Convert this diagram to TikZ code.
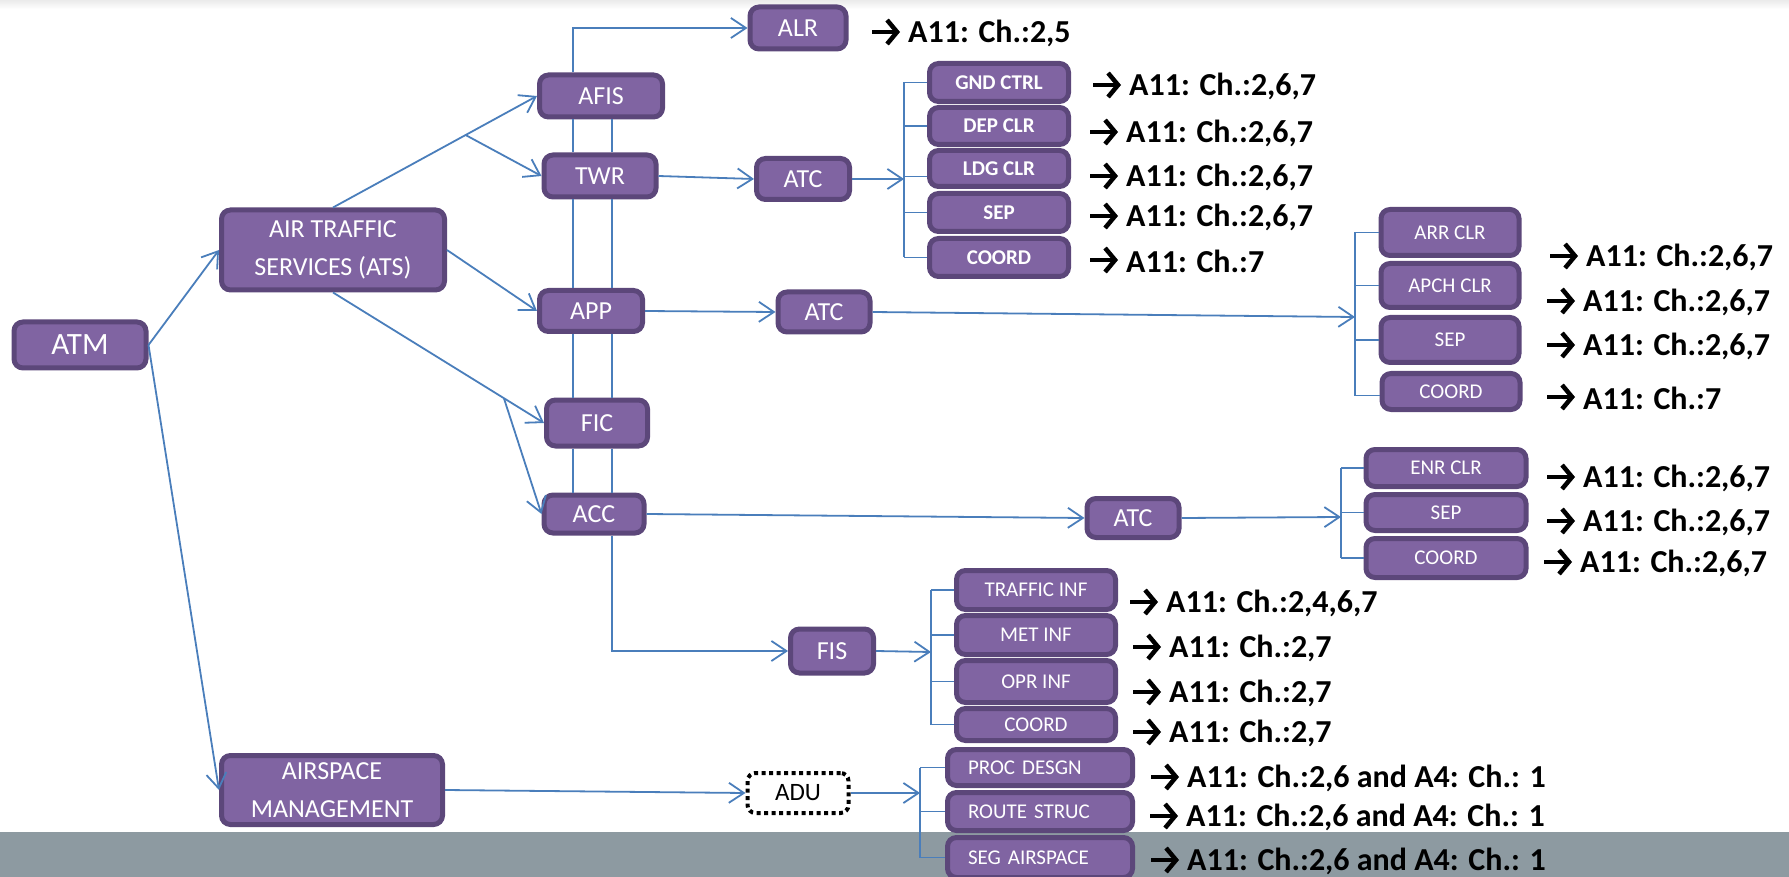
\documentclass[tikz,border=0pt]{standalone}
\usepackage{fontspec}
\setmainfont{Carlito}
\usetikzlibrary{arrows.meta,calc}
\definecolor{boxfill}{HTML}{8064A2}
\definecolor{boxline}{HTML}{5C477A}
\definecolor{linkblue}{HTML}{4A7EBB}
\definecolor{bandgray}{HTML}{8D9AA1}
\tikzset{
  box/.style={draw=boxline, fill=boxfill, line width=5pt, rounded corners=9pt, text=white, inner sep=0pt, align=center},
  sz/.style 2 args={minimum width=#1pt-5pt, minimum height=#2pt-5pt},
  big/.style={font=\fontsize{26}{38}\selectfont},
  small/.style={font=\fontsize{21}{24}\selectfont},
  smallb/.style={font=\fontsize{21}{24}\selectfont\bfseries},
  lefttxt/.style={align=left, text width=144pt, inner xsep=20pt},
  lbl/.style={anchor=west, inner sep=0pt, font=\fontsize{32}{36}\selectfont\bfseries},
  lblarr/.style={line width=4.5pt, -{Straight Barb[length=10pt,width=24pt,line width=4.5pt]}},
  link/.style={draw=linkblue, line width=1.8pt},
  arr/.style={link, -{Straight Barb[length=15pt,width=20pt]}},
}
\newcommand{\lab}[4]{% name, x of arrow, y, text
  \node[lbl] (#1) at (#2+36,#3) {#4};
  \draw[lblarr] ($(#1.west)+(-36,-1)$) -- ($(#1.west)+(-8,-1)$);
}
\begin{document}
\begin{tikzpicture}[x=1pt,y=-1pt]
\useasboundingbox (0,0) rectangle (1789,877);
\clip (0,0) rectangle (1789,877);
\shade[top color=black!8, bottom color=white] (0,0) rectangle (1789,9);
\fill[bandgray] (0,832) rectangle (1789,877);

% main nodes
\node[box,sz={137}{51},font=\fontsize{31}{36}\selectfont] (ATM) at (80,345) {ATM};
\node[box,big,sz={228}{85}] (ATS) at (333,250) {AIR TRAFFIC\\SERVICES (ATS)};
\node[box,big,sz={226}{74}] (ASM) at (332,790) {AIRSPACE\\MANAGEMENT};
\node[box,big,sz={128}{47}] (AFIS) at (601,96) {AFIS};
\node[box,big,sz={117}{47}] (TWR) at (600,176) {TWR};
\node[box,big,sz={108}{46}] (APP) at (591,311) {APP};
\node[box,big,sz={106}{51}] (FIC) at (597,423) {FIC};
\node[box,big,sz={105}{43}] (ACC) at (594,514) {ACC};
\node[box,big,sz={101}{47}] (ALR) at (798,28) {ALR};
\node[box,big,sz={98}{46}] (ATC1) at (803,179) {ATC};
\node[box,big,sz={97}{45}] (ATC2) at (824,312) {ATC};
\node[box,big,sz={97}{44}] (ATC3) at (1133,518) {ATC};
\node[box,big,sz={88}{49}] (FIS) at (832,651) {FIS};
\node[draw=black, fill=white, line width=4pt, dash pattern=on 4pt off 3.5pt, rounded corners=8pt,
      minimum width=101pt, minimum height=40pt, inner sep=0pt, font=\fontsize{25}{28}\selectfont] (ADU) at (798,793) {ADU};

% TWR group
\node[box,smallb,sz={144}{43}] (gnd) at (999,82.5) {GND CTRL};
\node[box,smallb,sz={144}{42}] (dep) at (999,126) {DEP CLR};
\node[box,smallb,sz={144}{41}] (ldg) at (999,168.5) {LDG CLR};
\node[box,smallb,sz={144}{43}] (sepA) at (999,212.5) {SEP};
\node[box,smallb,sz={144}{43}] (coA) at (999,257.5) {COORD};

% APP group
\node[box,small,sz={143}{51}] (arr) at (1450,232.5) {ARR CLR};
\node[box,small,sz={143}{49}] (apch) at (1450,285.5) {APCH CLR};
\node[box,small,sz={143}{50}] (sepB) at (1450,340) {SEP};
\node[box,small,sz={143}{41}] (coB) at (1451,391.5) {COORD};

% ACC group
\node[box,small,sz={165}{42}] (enr) at (1446,468) {ENR CLR};
\node[box,small,sz={165}{41}] (sepC) at (1446,512.5) {SEP};
\node[box,small,sz={165}{44}] (coC) at (1446,558) {COORD};

% FIS group
\node[box,small,sz={164}{44}] (traf) at (1036,590) {TRAFFIC INF};
\node[box,small,sz={164}{44}] (met) at (1036,635) {MET INF};
\node[box,small,sz={164}{47}] (opr) at (1036,681.5) {OPR INF};
\node[box,small,sz={164}{37}] (coD) at (1036,724.5) {COORD};

% ADU group
\node[box,small,lefttxt,sz={190}{41}] (proc) at (1040,767.5) {PROC DESGN};
\node[box,small,lefttxt,sz={190}{43}] (route) at (1040,811.5) {ROUTE STRUC};
\node[box,small,lefttxt,sz={190}{45}] (seg) at (1040,857.5) {SEG AIRSPACE};

% labels
\lab{lalr}{872}{33}{A11: Ch.:2,5}
\lab{la1}{1093}{86}{A11: Ch.:2,6,7}
\lab{la2}{1090}{133}{A11: Ch.:2,6,7}
\lab{la3}{1090}{177}{A11: Ch.:2,6,7}
\lab{la4}{1090}{217}{A11: Ch.:2,6,7}
\lab{la5}{1090}{261}{A11: Ch.:7}
\lab{lb1}{1550}{257}{A11: Ch.:2,6,7}
\lab{lb2}{1547}{302}{A11: Ch.:2,6,7}
\lab{lb3}{1547}{346}{A11: Ch.:2,6,7}
\lab{lb4}{1547}{398}{A11: Ch.:7}
\lab{lc1}{1547}{478}{A11: Ch.:2,6,7}
\lab{lc2}{1547}{522}{A11: Ch.:2,6,7}
\lab{lc3}{1544}{563}{A11: Ch.:2,6,7}
\lab{ld1}{1130}{603}{A11: Ch.:2,4,6,7}
\lab{ld2}{1133}{648}{A11: Ch.:2,7}
\lab{ld3}{1133}{693}{A11: Ch.:2,7}
\lab{ld4}{1133}{733}{A11: Ch.:2,7}
\lab{le1}{1151}{778}{A11: Ch.:2,6 and A4: Ch.: 1}
\lab{le2}{1150}{817}{A11: Ch.:2,6 and A4: Ch.: 1}
\lab{le3}{1151}{861}{A11: Ch.:2,6 and A4: Ch.: 1}

% connectors
\coordinate (c1) at (573,0);
\coordinate (c2) at (612,0);
\foreach \a/\b in {AFIS/TWR,TWR/APP,APP/FIC,FIC/ACC}{
  \draw[link] (\a.south -| c1) -- (\b.north -| c1);
  \draw[link] (\a.south -| c2) -- (\b.north -| c2);
}
\draw[arr] (AFIS.north -| c1) -- (c1 |- ALR.west) -- (ALR.west);
\draw[arr] (ACC.south -| c2) -- (c2 |- FIS.west) -- (FIS.west);

\draw[arr] (ATM.east) -- (ATS.west);
\draw[arr] (ATM.east) -- (ASM.west);
\coordinate (b1) at ($(ATS.north)!0.65!(AFIS.west)$);
\coordinate (b2) at ($(ATS.south)!0.81!(FIC.west)$);
\draw[arr] (ATS.north) -- (AFIS.west);
\draw[arr] (b1) -- (TWR.west);
\draw[arr] (ATS.east) -- (APP.west);
\draw[arr] (ATS.south) -- (FIC.west);
\draw[arr] (b2) -- (ACC.west);
\draw[arr] (TWR.east) -- (ATC1.west);
\draw[arr] (APP.east) -- (ATC2.west);
\draw[arr] (ACC.east) -- (ATC3.west);
\draw[arr] (ASM.east) -- (ADU.west);

% brackets
\coordinate (k1) at (904,179);
\draw[arr] (ATC1.east) -- (k1);
\draw[link] (k1 |- gnd.west) -- (k1 |- coA.west);
\foreach \b in {gnd,dep,sepA,coA}{\draw[link] (k1 |- \b.west) -- (\b.west);}
\draw[link] ($(k1 |- ldg.west)+(0,8)$) -- ($(ldg.west)+(0,8)$);

\coordinate (k2) at (1355,317);
\draw[arr] (ATC2.east) -- (k2);
\draw[link] (k2 |- arr.west) -- ($(k2 |- coB.west)+(0,4)$);
\foreach \b in {arr,apch,sepB}{\draw[link] (k2 |- \b.west) -- (\b.west);}
\draw[link] ($(k2 |- coB.west)+(0,4)$) -- ($(coB.west)+(0,4)$);

\coordinate (k3) at (1341,517);
\draw[arr] (ATC3.east) -- (k3);
\draw[link] (k3 |- enr.west) -- (k3 |- coC.west);
\foreach \b in {enr,sepC,coC}{\draw[link] (k3 |- \b.west) -- (\b.west);}

\coordinate (k4) at (931,652);
\draw[arr] (FIS.east) -- (k4);
\draw[link] (k4 |- traf.west) -- (k4 |- coD.west);
\foreach \b in {traf,met,opr,coD}{\draw[link] (k4 |- \b.west) -- (\b.west);}

\coordinate (k5) at (920,793);
\draw[arr] (ADU.east) -- (k5);
\draw[link] (k5 |- proc.west) -- (k5 |- seg.west);
\foreach \b in {proc,route,seg}{\draw[link] (k5 |- \b.west) -- (\b.west);}
\end{tikzpicture}
\end{document}
